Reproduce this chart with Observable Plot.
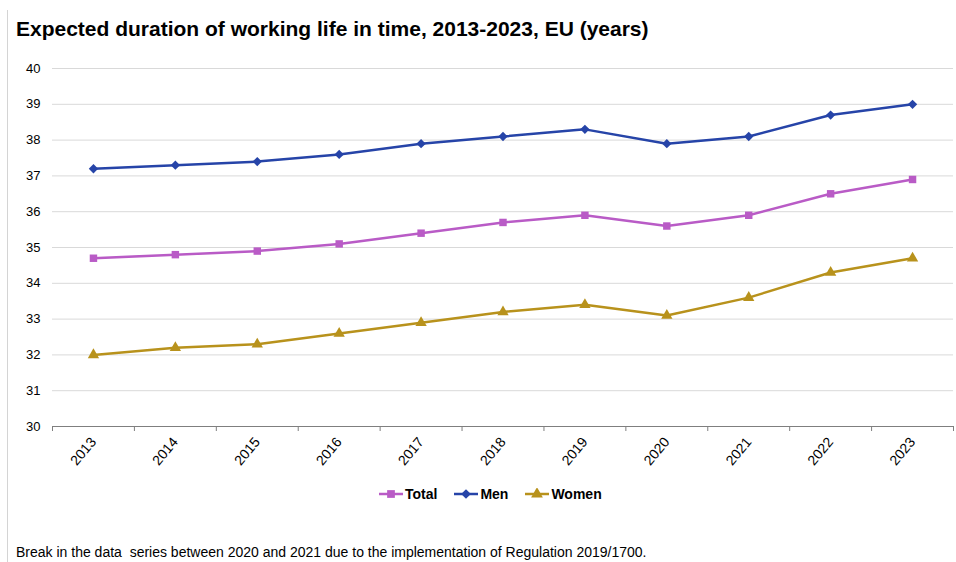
<!DOCTYPE html>
<html><head><meta charset="utf-8">
<script src="https://cdn.jsdelivr.net/npm/d3@7"></script>
<script src="https://cdn.jsdelivr.net/npm/@observablehq/plot@0.6"></script>
<style>
body{margin:0;background:#fff;font-family:"Liberation Sans",Arial,sans-serif;}
#wrap{position:relative;width:956px;height:562px;overflow:hidden;background:#fff;}
#border{position:absolute;left:7px;top:10px;bottom:0;width:1px;background:#d4d4d4;}
#title{position:absolute;left:16px;top:17px;font-size:21px;font-weight:bold;color:#000;white-space:nowrap;}
#chart{position:absolute;left:0;top:50px;}
#legend{position:absolute;top:486px;left:378px;display:flex;gap:16px;font-size:14px;font-weight:bold;color:#000;}
#legend .item{display:flex;align-items:center;gap:1px;}
#caption{position:absolute;left:16px;top:544px;font-size:14px;line-height:16px;color:#000;white-space:pre;}
</style></head>
<body>
<div id="wrap">
  <div id="border"></div>
  <div id="title">Expected duration of working life in time, 2013-2023, EU (years)</div>
  <div id="chart"></div>
  <div id="legend"></div>
  <div id="caption">Break in the data  series between 2020 and 2021 due to the implementation of Regulation 2019/1700.</div>
</div>
<script>
const years = [2013, 2014, 2015, 2016, 2017, 2018, 2019, 2020, 2021, 2022, 2023];
const total = [34.7, 34.8, 34.9, 35.1, 35.4, 35.7, 35.9, 35.6, 35.9, 36.5, 36.9];
const men   = [37.2, 37.3, 37.4, 37.6, 37.9, 38.1, 38.3, 37.9, 38.1, 38.7, 39.0];
const women = [32.0, 32.2, 32.3, 32.6, 32.9, 33.2, 33.4, 33.1, 33.6, 34.3, 34.7];
const seriesNames = ["Total", "Men", "Women"];
const seriesColors = ["#b95bc6", "#2644a8", "#b8921c"];
const seriesSymbols = ["square", "diamond2", "triangle"];
const yTicks = [30, 31, 32, 33, 34, 35, 36, 37, 38, 39, 40];

const seriesValues = [total, men, women];
const data = seriesNames.flatMap((name, i) =>
  years.map((yr, j) => ({series: name, year: yr, value: seriesValues[i][j]})));
const bounds = [years[0] - 0.5, ...years.map(y => y + 0.5)];

const chart = Plot.plot({
  width: 956,
  height: 420,
  marginTop: 18,
  marginBottom: 44,
  marginLeft: 52,
  marginRight: 3,
  style: {fontFamily: "'Liberation Sans', Arial, sans-serif", fontSize: "13px", color: "#000", background: "transparent"},
  x: {type: "linear", domain: [bounds[0], bounds[bounds.length - 1]]},
  y: {domain: [30, 40]},
  color: {domain: seriesNames, range: seriesColors},
  symbol: {domain: seriesNames, range: seriesSymbols},
  marks: [
    Plot.gridY(yTicks.slice(1), {stroke: "#d9d9d9", strokeOpacity: 1}),
    Plot.axisY({ticks: yTicks, tickSize: 0, tickPadding: 12, label: null, tickFormat: d => String(d)}),
    Plot.axisX({ticks: bounds, tickSize: 5, tickFormat: () => "", stroke: "#7f7f7f", label: null}),
    Plot.axisX({ticks: years, tickSize: 0, tickPadding: 13, tickRotate: -50, fontSize: 14, tickFormat: d => String(d), label: null}),
    Plot.ruleY([30], {stroke: "#7f7f7f", strokeWidth: 1}),
    Plot.line(data, {x: "year", y: "value", z: "series", stroke: "series", strokeWidth: 2.5}),
    Plot.dot(data, {x: "year", y: "value", fill: "series", symbol: "series", r: 4.2, stroke: "none"})
  ]
});
document.getElementById("chart").appendChild(chart);

// legend
const legend = document.getElementById("legend");
const symMap = {square: d3.symbolSquare, diamond2: d3.symbolDiamond2, triangle: d3.symbolTriangle};
seriesNames.forEach((name, i) => {
  const item = document.createElement("div");
  item.className = "item";
  const svg = d3.create("svg").attr("width", 26).attr("height", 12);
  svg.append("line").attr("x1", 1).attr("x2", 25).attr("y1", 6).attr("y2", 6)
    .attr("stroke", seriesColors[i]).attr("stroke-width", 2.5);
  svg.append("path").attr("transform", "translate(13,6)")
    .attr("d", d3.symbol(symMap[seriesSymbols[i]], 60)())
    .attr("fill", seriesColors[i]);
  item.appendChild(svg.node());
  const span = document.createElement("span");
  span.textContent = name;
  item.appendChild(span);
  legend.appendChild(item);
});
</script>
</body></html>
